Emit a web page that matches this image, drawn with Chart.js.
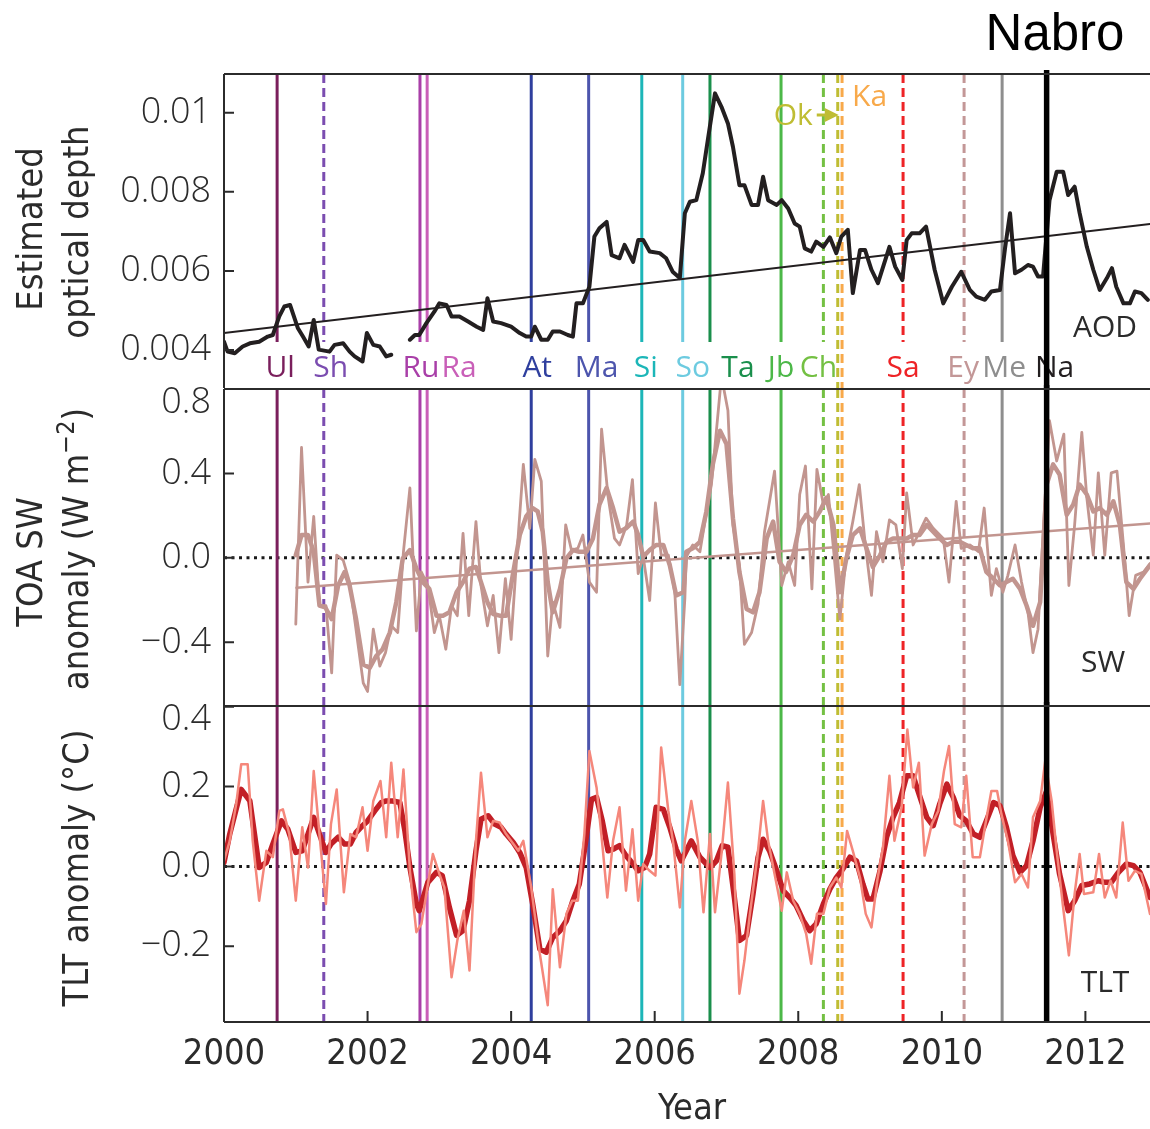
<!DOCTYPE html>
<html>
<head>
<meta charset="utf-8">
<script src="https://cdn.jsdelivr.net/npm/chart.js@4.4.1/dist/chart.umd.min.js"></script>
<style>
  html, body { margin: 0; padding: 0; background: #fff; }
  #wrap { position: relative; width: 1150px; height: 1129px; }
  #wrap canvas { position: absolute; left: 0; top: 0; }
</style>
</head>
<body>
<div id="wrap">
  <canvas id="cAod" width="1150" height="1129"></canvas>
  <canvas id="cSw" width="1150" height="1129"></canvas>
  <canvas id="cTlt" width="1150" height="1129"></canvas>
</div>
<script>
// ---- data ----
var xMin = 2000, xMax = 2012.9;
var yearTicks = [2000, 2002, 2004, 2006, 2008, 2010, 2012];

var aodYears = [2000.00,2000.05,2000.15,2000.26,2000.36,2000.49,2000.61,2000.68,2000.77,2000.84,2000.92,2001.03,2001.10,2001.18,2001.25,2001.32,2001.47,2001.54,2001.66,2001.75,2001.82,2001.93,2001.99,2002.08,2002.17,2002.26,2002.33,2002.45,
  2002.59,2002.66,2002.72,2002.82,2002.93,2003.00,2003.10,2003.17,2003.28,2003.40,2003.52,2003.61,2003.67,2003.75,2003.86,2004.00,2004.12,2004.21,2004.28,2004.33,2004.42,2004.51,2004.58,2004.68,2004.79,2004.86,2004.91,2005.00,
  2005.09,2005.16,2005.23,2005.33,2005.40,2005.51,2005.58,2005.70,2005.77,2005.84,2005.93,2006.07,2006.16,2006.25,2006.35,2006.42,2006.49,2006.58,2006.67,2006.74,2006.84,2006.93,2007.02,2007.09,2007.18,2007.25,2007.35,2007.44,
  2007.51,2007.58,2007.70,2007.77,2007.86,2007.95,2008.02,2008.09,2008.18,2008.25,2008.35,2008.44,2008.53,2008.60,2008.69,2008.76,2008.86,2008.93,2009.02,2009.11,2009.27,2009.35,2009.45,2009.51,2009.58,2009.69,2009.78,2009.90,
  2010.02,2010.14,2010.27,2010.39,2010.48,2010.60,2010.69,2010.81,2010.88,2010.95,2011.02,2011.11,2011.20,2011.27,2011.34,2011.41,2011.50,2011.60,2011.69,2011.76,2011.85,2011.92,2012.02,2012.11,2012.20,2012.30,2012.37,2012.43,
  2012.53,2012.62,2012.69,2012.78,2012.87];
var aodValues = [0.00421,0.00396,0.00392,0.00409,0.00417,0.00421,0.00434,0.00438,0.00485,0.00510,0.00514,0.00455,0.00434,0.00409,0.00476,0.00401,0.00396,0.00413,0.00417,0.00396,0.00384,0.00371,0.00443,0.00413,0.00409,0.00384,0.00388,null,
  0.00426,0.00438,0.00438,0.00468,0.00497,0.00518,0.00514,0.00485,0.00485,0.00472,0.00459,0.00451,0.00531,0.00472,0.00468,0.00459,0.00443,0.00434,0.00434,0.00459,0.00426,0.00426,0.00447,0.00447,0.00438,0.00434,0.00518,0.00518,
  0.00560,0.00687,0.00708,0.00724,0.00640,0.00632,0.00666,0.00623,0.00678,0.00678,0.00649,0.00645,0.00632,0.00598,0.00582,0.00746,0.00775,0.00779,0.00847,0.00931,0.01049,0.01015,0.00973,0.00914,0.00817,0.00817,0.00767,0.00767,
  0.00838,0.00779,0.00767,0.00779,0.00758,0.00720,0.00712,0.00657,0.00649,0.00674,0.00661,0.00685,0.00645,0.00687,0.00704,0.00544,0.00653,0.00653,0.00603,0.00569,0.00661,0.00611,0.00577,0.00678,0.00695,0.00695,0.00712,0.00603,
  0.00518,0.00560,0.00598,0.00552,0.00535,0.00527,0.00548,0.00552,0.00657,0.00746,0.00594,0.00603,0.00615,0.00611,0.00586,0.00586,0.00779,0.00851,0.00851,0.00792,0.00813,0.00746,0.00661,0.00603,0.00552,0.00582,0.00607,0.00560,
  0.00518,0.00518,0.00548,0.00544,0.00527];
var aodTrendYears = [2000, 2012.9];
var aodTrendValues = [0.00443, 0.00719];

var swYears = [2001.00,2001.08,2001.17,2001.25,2001.33,2001.42,2001.50,2001.57,2001.66,2001.75,2001.94,2002.00,2002.08,2002.17,2002.25,2002.33,2002.42,2002.50,2002.59,2002.68,2002.75,2002.84,2002.93,2003.00,2003.09,2003.17,2003.25,2003.33,
  2003.41,2003.51,2003.58,2003.67,2003.75,2003.83,2003.92,2004.00,2004.09,2004.17,2004.26,2004.33,2004.42,2004.51,2004.58,2004.68,2004.76,2004.84,2004.93,2005.00,2005.09,2005.19,2005.26,2005.35,2005.44,2005.51,2005.61,2005.69,
  2005.77,2005.84,2005.93,2006.01,2006.09,2006.19,2006.28,2006.35,2006.42,2006.44,2006.53,2006.63,2006.70,2006.79,2006.93,2007.02,2007.09,2007.18,2007.25,2007.35,2007.44,2007.53,2007.67,2007.77,2007.86,2007.95,2008.02,2008.10,
  2008.19,2008.26,2008.35,2008.42,2008.49,2008.58,2008.67,2008.76,2008.85,2008.93,2009.02,2009.09,2009.18,2009.27,2009.36,2009.45,2009.51,2009.60,2009.69,2009.78,2009.88,2010.02,2010.10,2010.20,2010.27,2010.39,2010.51,2010.59,
  2010.69,2010.76,2010.85,2010.92,2011.02,2011.11,2011.20,2011.27,2011.34,2011.41,2011.50,2011.60,2011.70,2011.77,2011.85,2011.95,2012.02,2012.11,2012.18,2012.27,2012.36,2012.44,2012.53,2012.61,2012.70,2012.81,2012.90];
var swValues = [-0.314,0.523,-0.115,0.196,-0.226,-0.226,-0.545,0.013,-0.011,-0.115,-0.593,-0.633,-0.338,-0.513,-0.449,-0.322,-0.354,0.029,0.331,-0.346,-0.067,-0.131,-0.354,-0.274,-0.433,-0.226,-0.274,0.116,
  -0.274,0.172,-0.131,-0.322,-0.178,-0.449,-0.099,-0.386,0.061,0.443,0.140,0.467,0.363,-0.465,-0.210,-0.330,0.156,0.037,0.045,0.108,-0.115,-0.163,0.610,0.292,0.092,0.061,0.156,0.371,
  -0.075,0.005,-0.202,0.260,0.013,0.013,-0.163,-0.601,-0.194,0.005,0.061,0.029,0.172,0.347,0.860,0.698,0.156,-0.035,-0.410,-0.354,-0.218,0.124,0.411,-0.131,-0.019,-0.131,0.300,0.435,
  -0.147,0.419,0.252,0.300,0.045,-0.290,0.013,0.172,0.347,0.076,-0.178,0.124,-0.019,0.180,0.156,-0.051,0.308,0.061,0.124,0.188,0.140,0.092,-0.115,0.268,0.045,0.061,0.029,0.236,
  -0.178,-0.051,-0.163,-0.083,0.061,-0.115,-0.258,-0.449,-0.338,0.108,0.650,0.459,0.586,-0.131,0.156,0.594,0.284,0.013,0.403,0.013,0.403,0.411,0.061,-0.274,-0.083,-0.067,-0.027];

var swSmoothYears = [2001.00,2001.08,2001.17,2001.25,2001.33,2001.41,2001.50,2001.59,2001.68,2001.75,2001.84,2001.94,2002.03,2002.12,2002.21,2002.31,2002.40,2002.49,2002.59,2002.68,2002.77,2002.86,2002.96,2003.05,2003.14,2003.24,2003.33,2003.42,
  2003.51,2003.58,2003.67,2003.75,2003.84,2003.93,2004.03,2004.12,2004.21,2004.30,2004.37,2004.44,2004.51,2004.58,2004.68,2004.77,2004.86,2004.95,2005.05,2005.14,2005.23,2005.33,2005.42,2005.51,2005.60,2005.70,2005.77,2005.84,
  2005.93,2006.02,2006.12,2006.21,2006.30,2006.40,2006.44,2006.53,2006.63,2006.72,2006.81,2006.91,2007.00,2007.09,2007.18,2007.28,2007.37,2007.46,2007.56,2007.65,2007.74,2007.83,2007.93,2008.02,2008.11,2008.21,2008.30,2008.39,
  2008.49,2008.58,2008.67,2008.76,2008.86,2008.95,2009.04,2009.14,2009.23,2009.32,2009.41,2009.51,2009.60,2009.69,2009.79,2009.88,2009.97,2010.07,2010.16,2010.25,2010.34,2010.44,2010.53,2010.62,2010.72,2010.81,2010.90,2010.99,
  2011.09,2011.18,2011.27,2011.37,2011.46,2011.55,2011.64,2011.74,2011.83,2011.92,2012.02,2012.11,2012.20,2012.30,2012.39,2012.48,2012.57,2012.67,2012.76,2012.90];
var swSmoothValues = [0.013,0.108,0.108,0.029,-0.226,-0.234,-0.290,-0.131,-0.067,-0.131,-0.290,-0.505,-0.521,-0.465,-0.433,-0.354,-0.210,-0.003,0.037,-0.051,-0.115,-0.147,-0.274,-0.274,-0.258,-0.163,-0.115,-0.051,
  -0.043,-0.115,-0.210,-0.266,-0.274,-0.274,-0.067,0.108,0.196,0.236,0.220,0.124,-0.115,-0.258,-0.147,-0.003,0.037,0.029,0.029,0.092,0.252,0.331,0.236,0.124,0.140,0.172,0.108,0.005,
  0.037,0.061,0.061,-0.035,-0.178,-0.163,0.029,0.045,0.076,0.220,0.443,0.602,0.539,0.188,-0.067,-0.242,-0.258,-0.163,0.092,0.172,-0.019,-0.067,0.013,0.156,0.204,0.172,0.220,0.284,
  0.156,-0.163,-0.003,0.108,0.140,0.045,-0.043,0.013,0.076,0.092,0.092,0.092,0.108,0.108,0.156,0.124,0.092,0.061,0.076,0.076,0.061,0.045,0.045,-0.067,-0.099,-0.131,-0.115,-0.099,
  -0.147,-0.226,-0.322,-0.210,0.347,0.443,0.395,0.204,0.252,0.347,0.300,0.220,0.236,0.204,0.268,0.156,-0.115,-0.147,-0.099,-0.035];
var swTrendYears = [2001.01, 2012.9];
var swTrendValues = [-0.142, 0.163];

var tltYears = [2000.00,2000.08,2000.17,2000.24,2000.33,2000.40,2000.49,2000.59,2000.68,2000.77,2000.82,2000.91,2001.00,2001.09,2001.17,2001.25,2001.33,2001.42,2001.49,2001.57,2001.67,2001.76,2001.84,2001.93,2002.00,2002.08,2002.18,2002.26,
  2002.33,2002.42,2002.50,2002.59,2002.68,2002.75,2002.91,2003.00,2003.07,2003.17,2003.25,2003.34,2003.42,2003.51,2003.58,2003.67,2003.75,2003.84,2003.93,2004.10,2004.17,2004.28,2004.40,2004.51,2004.58,2004.68,2004.77,2004.85,
  2004.93,2005.02,2005.09,2005.19,2005.27,2005.34,2005.42,2005.51,2005.60,2005.69,2005.77,2005.84,2005.93,2006.01,2006.09,2006.19,2006.26,2006.35,2006.42,2006.51,2006.60,2006.68,2006.77,2006.84,2006.93,2007.02,2007.11,2007.18,
  2007.25,2007.32,2007.43,2007.51,2007.58,2007.67,2007.77,2007.84,2007.93,2008.02,2008.11,2008.18,2008.26,2008.35,2008.44,2008.53,2008.60,2008.68,2008.76,2008.86,2008.94,2009.02,2009.10,2009.18,2009.27,2009.34,2009.44,2009.52,
  2009.60,2009.68,2009.76,2009.86,2009.95,2010.03,2010.10,2010.18,2010.27,2010.34,2010.43,2010.53,2010.60,2010.69,2010.77,2010.83,2010.92,2011.02,2011.11,2011.20,2011.27,2011.37,2011.44,2011.53,2011.60,2011.69,2011.77,2011.85,
  2011.92,2011.98,2012.11,2012.19,2012.27,2012.35,2012.43,2012.52,2012.60,2012.69,2012.78,2012.90];
var tltValues = [0.014,0.064,0.156,0.256,0.256,0.064,-0.086,0.039,0.023,0.139,0.143,0.081,-0.086,0.098,-0.003,0.239,0.081,-0.094,0.106,0.193,-0.065,0.081,0.073,0.148,0.039,0.164,0.214,0.073,
  0.260,0.073,0.243,-0.011,-0.165,-0.144,0.031,-0.019,-0.053,-0.278,-0.186,-0.111,-0.261,0.064,0.235,0.073,0.114,0.110,0.081,0.039,0.064,-0.053,-0.219,-0.348,-0.057,-0.253,-0.119,-0.086,
  -0.086,0.081,0.289,0.198,0.056,-0.078,0.064,0.148,-0.061,0.093,-0.086,0.006,-0.011,-0.023,0.298,0.139,0.056,-0.103,0.064,0.164,0.064,-0.115,0.081,-0.115,0.031,0.210,-0.019,-0.319,
  -0.236,-0.128,0.023,0.164,0.064,-0.019,-0.111,-0.015,-0.086,-0.119,-0.169,-0.244,-0.119,-0.119,-0.053,-0.028,-0.053,0.089,0.039,-0.028,-0.119,-0.153,-0.036,0.048,0.227,0.064,0.148,0.343,
  0.198,0.260,0.027,0.106,0.139,0.239,0.302,0.106,0.098,0.227,0.023,0.023,0.098,0.189,0.189,0.131,0.064,-0.040,-0.019,-0.053,0.123,0.164,0.264,0.164,0.039,-0.103,-0.223,-0.069,
  0.031,-0.069,-0.065,0.031,-0.078,-0.036,-0.078,0.110,-0.036,-0.011,-0.019,-0.119];

var tltSmoothYears = [2000.00,2000.08,2000.24,2000.36,2000.49,2000.59,2000.68,2000.80,2000.89,2001.00,2001.09,2001.17,2001.25,2001.33,2001.42,2001.49,2001.59,2001.68,2001.76,2001.84,2001.93,2002.00,2002.10,2002.19,2002.26,2002.35,2002.45,2002.52,
  2002.59,2002.68,2002.72,2002.84,2002.96,2003.04,2003.14,2003.24,2003.33,2003.42,2003.51,2003.58,2003.68,2003.77,2003.86,2003.93,2004.03,2004.12,2004.21,2004.30,2004.40,2004.49,2004.58,2004.68,2004.77,2004.86,2004.95,2005.02,
  2005.12,2005.19,2005.27,2005.35,2005.42,2005.51,2005.60,2005.70,2005.77,2005.86,2005.93,2006.02,2006.12,2006.21,2006.30,2006.37,2006.51,2006.63,2006.77,2006.86,2006.94,2007.02,2007.11,2007.18,2007.28,2007.37,2007.44,2007.51,
  2007.60,2007.70,2007.79,2007.88,2007.97,2008.07,2008.16,2008.25,2008.35,2008.44,2008.53,2008.62,2008.72,2008.81,2008.90,2008.97,2009.04,2009.14,2009.23,2009.32,2009.41,2009.51,2009.60,2009.69,2009.79,2009.88,2009.97,2010.07,
  2010.16,2010.25,2010.34,2010.44,2010.53,2010.62,2010.72,2010.81,2010.90,2010.99,2011.09,2011.18,2011.27,2011.37,2011.46,2011.55,2011.64,2011.76,2011.85,2011.95,2012.06,2012.18,2012.27,2012.36,2012.46,2012.57,2012.67,2012.76,
  2012.90];
var tltSmoothValues = [0.010,0.081,0.193,0.164,-0.003,0.010,0.056,0.114,0.093,0.035,0.039,0.081,0.123,0.081,0.035,0.056,0.073,0.056,0.056,0.085,0.102,0.114,0.139,0.160,0.164,0.164,0.160,0.089,
  -0.003,-0.094,-0.111,-0.040,-0.015,-0.023,-0.103,-0.173,-0.161,-0.086,0.039,0.118,0.127,0.106,0.098,0.081,0.060,0.035,-0.003,-0.094,-0.207,-0.215,-0.178,-0.161,-0.136,-0.086,-0.044,0.039,
  0.168,0.173,0.114,0.039,0.043,0.052,0.027,0.006,-0.011,-0.003,0.031,0.148,0.143,0.098,0.043,0.014,0.064,0.023,-0.003,0.014,0.052,0.048,-0.078,-0.186,-0.173,-0.069,0.023,0.068,
  0.039,-0.011,-0.061,-0.078,-0.098,-0.136,-0.161,-0.144,-0.094,-0.057,-0.028,-0.007,0.023,0.014,-0.044,-0.082,-0.082,-0.011,0.073,0.123,0.160,0.227,0.227,0.177,0.123,0.102,0.156,0.206,
  0.173,0.127,0.114,0.081,0.073,0.114,0.160,0.152,0.098,0.027,-0.015,0.002,0.064,0.148,0.189,0.081,-0.019,-0.111,-0.086,-0.048,-0.044,-0.036,-0.040,-0.040,-0.015,0.006,0.002,-0.015,
  -0.078];

var aodTicks = [0.004, 0.006, 0.008, 0.01];
var aodTickLabels = ['0.004', '0.006', '0.008', '0.01'];
var swTicks = [-0.4, 0, 0.4, 0.8];
var swTickLabels = ['\u22120.4', '0.0', '0.4', '0.8'];
var tltTicks = [-0.2, 0, 0.2, 0.4];
var tltTickLabels = ['\u22120.2', '0.0', '0.2', '0.4'];

var volcanoNames = ['Ul','Sh','Ru','Ra','At','Ma','Si','So','Ta','Jb','Ch','Ok','Ka','Sa','Ey','Me','Na'];
var volcanoYears = [2000.74,2001.39,2002.73,2002.83,2004.28,2005.08,2005.82,2006.39,2006.77,2007.76,2008.35,2008.55,2008.61,2009.46,2010.31,2010.84,2011.46];

// ---- styling ----
var W = 1150, H = 1129, LEFT = 224;
var tickFont = '300 36px "Open Sans", "Noto Sans", sans-serif';
var titleFont = '36px "Liberation Sans Narrow", "DejaVu Sans Condensed", sans-serif';
var yearFont = '36px "Liberation Sans Narrow", "DejaVu Sans Condensed", sans-serif';
var tagFont = '30px "Open Sans", "Noto Sans", sans-serif';
var ink = '#2b2b2b';
var volcanoColor = {
  Ul:'#7a1f5c', Sh:'#7b4db0', Ru:'#a93fa8', Ra:'#c95fb8', At:'#2f3f9e', Ma:'#4d55ad', Si:'#1cb6b8',
  So:'#6dcbe0', Ta:'#1a8f4c', Jb:'#4cb848', Ch:'#74c043', Ok:'#bfbd33', Ka:'#f8a94a', Sa:'#ee2326',
  Ey:'#c39797', Me:'#8e8e8e', Na:'#000000'
};
var dashed = { Sh:true, Ch:true, Ok:true, Ka:true, Sa:true, Ey:true };
// bottom-row labels in the AOD panel: horizontal nudge from the line (px)
var tagNudge = { Ul:3, Sh:7, Ru:1, Ra:32, At:6, Ma:8, Si:4, So:10, Ta:28, Jb:0, Ch:-5, Sa:0, Ey:-1, Me:2, Na:8 };
var fullHeight = { Ok:true, Ka:true, Na:true };

function pts(xs, ys) { return xs.map(function (x, i) { return { x: x, y: ys[i] }; }); }

function vLines(chart, skipTagRow, which) {
  var ctx = chart.ctx, a = chart.chartArea, x = chart.scales.x;
  ctx.save();
  volcanoNames.forEach(function (n, i) {
    if ((which === 'nabro') !== (n === 'Na')) return;
    var px = x.getPixelForValue(volcanoYears[i]);
    ctx.strokeStyle = volcanoColor[n];
    ctx.lineWidth = n === 'Na' ? 5.5 : 3;
    ctx.setLineDash(dashed[n] ? [9, 5] : []);
    var bottom = (skipTagRow && !fullHeight[n]) ? a.bottom - 46 : a.bottom;
    ctx.beginPath();
    ctx.moveTo(px, n === 'Na' ? a.top - 4 : a.top);
    ctx.lineTo(px, bottom);
    ctx.stroke();
  });
  ctx.restore();
}

function zeroLine(chart) {
  var ctx = chart.ctx, a = chart.chartArea, py = chart.scales.y.getPixelForValue(0);
  ctx.save();
  ctx.strokeStyle = '#1a1a1a';
  ctx.lineWidth = 3;
  ctx.setLineDash([3, 4.5]);
  ctx.beginPath(); ctx.moveTo(a.left, py); ctx.lineTo(a.right, py); ctx.stroke();
  ctx.restore();
}

function frameAndTicks(chart, ticks, labels, withBottom) {
  var ctx = chart.ctx, a = chart.chartArea, y = chart.scales.y;
  ctx.save();
  ctx.strokeStyle = ink;
  ctx.lineWidth = 2;
  ctx.beginPath();
  ctx.moveTo(a.left, a.top); ctx.lineTo(a.right, a.top);
  ctx.moveTo(a.left, a.top); ctx.lineTo(a.left, a.bottom);
  if (withBottom) { ctx.moveTo(a.left, a.bottom); ctx.lineTo(a.right, a.bottom); }
  ticks.forEach(function (t) {
    var py = y.getPixelForValue(t);
    ctx.moveTo(a.left, py); ctx.lineTo(a.left + 10, py);
  });
  ctx.stroke();
  ctx.fillStyle = ink;
  ctx.font = tickFont;
  ctx.textAlign = 'right';
  ctx.textBaseline = 'middle';
  ticks.forEach(function (t, i) {
    var py = Math.max(y.getPixelForValue(t), a.top + 14);
    ctx.fillText(labels[i], a.left - 13, py);
  });
  ctx.restore();
}

function vText(ctx, text, cx, cy) {
  ctx.save();
  ctx.translate(cx, cy);
  ctx.rotate(-Math.PI / 2);
  ctx.textAlign = 'center';
  ctx.textBaseline = 'middle';
  ctx.fillText(text, 0, 0);
  ctx.restore();
}

function baseOptions(top, bottom, yMin, yMax) {
  return {
    responsive: false,
    animation: false,
    devicePixelRatio: 1,
    layout: { padding: { left: LEFT, right: 0, top: top, bottom: H - bottom } },
    plugins: { legend: { display: false }, tooltip: { enabled: false } },
    elements: { point: { radius: 0 }, line: { tension: 0, borderJoinStyle: 'round', borderCapStyle: 'round' } },
    scales: {
      x: { type: 'linear', min: xMin, max: xMax, display: false },
      y: { type: 'linear', min: yMin, max: yMax, display: false }
    }
  };
}

function aodTags(chart) {
  var ctx = chart.ctx, a = chart.chartArea, x = chart.scales.x;
  ctx.save();
  ctx.font = tagFont;
  ctx.textAlign = 'center';
  ctx.textBaseline = 'alphabetic';
  volcanoNames.forEach(function (n, i) {
    if (tagNudge[n] === undefined) return;
    ctx.fillStyle = n === 'Na' ? '#231f20' : volcanoColor[n];
    ctx.fillText(n, x.getPixelForValue(volcanoYears[i]) + tagNudge[n], a.bottom - 11);
  });
  ctx.restore();
}

// ---- AOD panel ----
new Chart(document.getElementById('cAod'), {
  type: 'line',
  data: { datasets: [
    { data: pts(aodYears, aodValues), borderColor: '#231f20', borderWidth: 4, spanGaps: false },
    { data: pts(aodTrendYears, aodTrendValues), borderColor: '#231f20', borderWidth: 2 }
  ] },
  options: baseOptions(74, 388, 0.00304, 0.01098),
  plugins: [{
    id: 'aodDecor',
    beforeDatasetsDraw: function (chart) { vLines(chart, true, 'rest'); },
    afterDatasetsDraw: function (chart) { aodTags(chart); vLines(chart, true, 'nabro'); },
    afterDraw: function (chart) {
      var ctx = chart.ctx, a = chart.chartArea, x = chart.scales.x;
      frameAndTicks(chart, aodTicks, aodTickLabels, false);
      ctx.save();
      ctx.font = tagFont;
      ctx.textBaseline = 'alphabetic';
      // Ok arrow and Ka tag near the top
      var okX = x.getPixelForValue(volcanoYears[volcanoNames.indexOf('Ok')]);
      var kaX = x.getPixelForValue(volcanoYears[volcanoNames.indexOf('Ka')]);
      ctx.fillStyle = volcanoColor.Ok;
      ctx.textAlign = 'right';
      ctx.fillText('Ok', okX - 25, a.top + 51);
      ctx.strokeStyle = volcanoColor.Ok;
      ctx.lineWidth = 3;
      ctx.beginPath(); ctx.moveTo(okX - 21, a.top + 41); ctx.lineTo(okX - 10, a.top + 41); ctx.stroke();
      ctx.beginPath();
      ctx.moveTo(okX - 13, a.top + 34); ctx.lineTo(okX + 1, a.top + 41); ctx.lineTo(okX - 13, a.top + 48);
      ctx.closePath(); ctx.fill();
      ctx.fillStyle = volcanoColor.Ka;
      ctx.textAlign = 'left';
      ctx.fillText('Ka', kaX + 10, a.top + 32);
      ctx.fillStyle = ink;
      ctx.textAlign = 'center';
      ctx.fillText('AOD', 1105, a.bottom - 51);
      ctx.fillStyle = '#000';
      ctx.font = '51px "Liberation Sans", Arial, sans-serif';
      ctx.fillText('Nabro', 1055, 50);
      ctx.fillStyle = ink;
      ctx.font = titleFont;
      vText(ctx, 'Estimated', 33, 229);
      vText(ctx, 'optical depth', 79, 232);
      ctx.restore();
    }
  }]
});

// ---- SW panel ----
new Chart(document.getElementById('cSw'), {
  type: 'line',
  data: { datasets: [
    { data: pts(swYears, swValues), borderColor: '#c2958f', borderWidth: 2.8 },
    { data: pts(swSmoothYears, swSmoothValues), borderColor: '#c2958f', borderWidth: 4.5 },
    { data: pts(swTrendYears, swTrendValues), borderColor: '#c2958f', borderWidth: 2.5 }
  ] },
  options: baseOptions(389, 706, -0.702, 0.8),
  plugins: [{
    id: 'swDecor',
    beforeDatasetsDraw: function (chart) { zeroLine(chart); vLines(chart, false, 'rest'); },
    afterDatasetsDraw: function (chart) { vLines(chart, false, 'nabro'); },
    afterDraw: function (chart) {
      var ctx = chart.ctx, a = chart.chartArea;
      frameAndTicks(chart, swTicks, swTickLabels, false);
      ctx.save();
      ctx.fillStyle = ink;
      ctx.font = tagFont;
      ctx.textAlign = 'center';
      ctx.textBaseline = 'middle';
      ctx.fillText('SW', 1103, a.bottom - 43);
      ctx.font = titleFont;
      vText(ctx, 'TOA SW', 33, 562);
      ctx.save();
      ctx.translate(79, 549);
      ctx.rotate(-Math.PI / 2);
      ctx.textBaseline = 'middle';
      var main = 'anomaly (W m', sup = '\u22122', tail = ')';
      var supFont = '25px "Liberation Sans Narrow", "DejaVu Sans Condensed", sans-serif';
      var w1 = ctx.measureText(main).width;
      ctx.font = supFont; var w2 = ctx.measureText(sup).width;
      ctx.font = titleFont; var w3 = ctx.measureText(tail).width;
      var sx = -(w1 + w2 + w3) / 2;
      ctx.textAlign = 'left';
      ctx.fillText(main, sx, 0);
      ctx.font = supFont; ctx.fillText(sup, sx + w1, -12);
      ctx.font = titleFont; ctx.fillText(tail, sx + w1 + w2, 0);
      ctx.restore();
      ctx.restore();
    }
  }]
});

// ---- TLT panel ----
new Chart(document.getElementById('cTlt'), {
  type: 'line',
  data: { datasets: [
    { data: pts(tltYears, tltValues), borderColor: '#f5877b', borderWidth: 2.5 },
    { data: pts(tltSmoothYears, tltSmoothValues), borderColor: '#c21f26', borderWidth: 5.5 }
  ] },
  options: baseOptions(706, 1022, -0.39, 0.402),
  plugins: [{
    id: 'tltDecor',
    beforeDatasetsDraw: function (chart) { zeroLine(chart); vLines(chart, false, 'rest'); },
    afterDatasetsDraw: function (chart) { vLines(chart, false, 'nabro'); },
    afterDraw: function (chart) {
      var ctx = chart.ctx, a = chart.chartArea, x = chart.scales.x;
      frameAndTicks(chart, tltTicks, tltTickLabels, true);
      ctx.save();
      ctx.strokeStyle = ink;
      ctx.lineWidth = 2;
      ctx.beginPath();
      yearTicks.forEach(function (t) {
        var px = x.getPixelForValue(t);
        ctx.moveTo(px, a.bottom); ctx.lineTo(px, a.bottom - 11);
      });
      ctx.stroke();
      ctx.fillStyle = ink;
      ctx.font = yearFont;
      ctx.textAlign = 'center';
      ctx.textBaseline = 'middle';
      yearTicks.forEach(function (t) {
        ctx.fillText(String(t), x.getPixelForValue(t), 1055);
      });
      ctx.font = titleFont;
      ctx.fillText('Year', 692, 1110);
      ctx.font = tagFont;
      ctx.fillText('TLT', 1105, a.bottom - 39);
      ctx.font = titleFont;
      vText(ctx, 'TLT anomaly (\u00b0C)', 79, 868);
      ctx.restore();
    }
  }]
});
</script>
</body>
</html>
